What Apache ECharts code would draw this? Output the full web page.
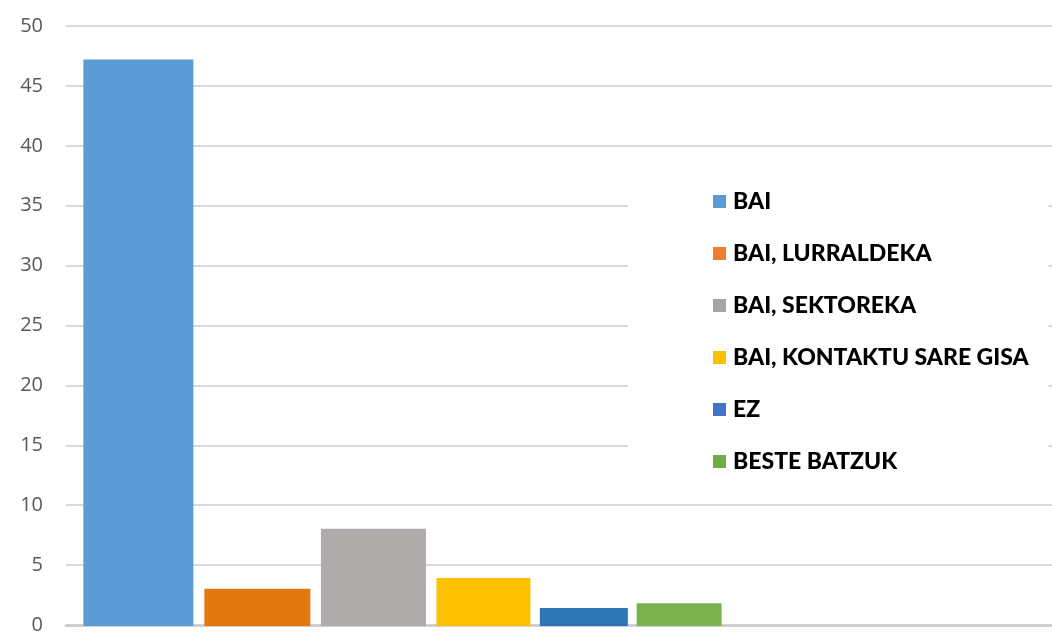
<!DOCTYPE html>
<html>
<head>
<meta charset="utf-8">
<script src="https://cdn.jsdelivr.net/npm/echarts@6/dist/echarts.min.js"></script>
<style>
  html, body { margin: 0; padding: 0; background: #fff; }
  #chart { width: 1052px; height: 635px; }
</style>
</head>
<body>
<div id="chart"></div>
<script>
// datuak
const categories = ['BAI', 'BAI, LURRALDEKA', 'BAI, SEKTOREKA', 'BAI, KONTAKTU SARE GISA', 'EZ', 'BESTE BATZUK']
const values = [47.2, 3.1, 8.1, 4.0, 1.5, 1.9]
const barColors = ['#5B9BD5', '#E2790F', '#AFABAB', '#FFC000', '#2E75B6', '#7AB24E']
const legendColors = ['#5B9BD5', '#ED7D31', '#A5A5A5', '#FFC000', '#4472C4', '#70AD47']
const yMin = 0
const yMax = 50
const yStep = 5

const chart = echarts.init(document.getElementById('chart'))

// bars in the picture get slightly narrower to the right
const barWidths = [110, 106, 105, 94, 88, 85]

// grid 0: full width, only axes + grid lines
// grid 1: left part, holds the bar cluster
const series = categories.map((name, i) => ({
  name,
  type: 'bar',
  xAxisIndex: 1,
  yAxisIndex: 1,
  data: [values[i]],
  itemStyle: { color: barColors[i] },
  barWidth: barWidths[i],
  barGap: '10%',
  silent: true
}))

chart.setOption({
  animation: false,
  grid: [
    { left: 66, right: 0, top: 26, bottom: 9 },
    { left: 65, right: 312, top: 26, bottom: 9 }
  ],
  xAxis: [
    {
      type: 'category', gridIndex: 0, data: [''],
      axisLine: { show: true, lineStyle: { color: '#d0d0d0', width: 3 } },
      axisTick: { show: false }, axisLabel: { show: false }
    },
    { type: 'category', gridIndex: 1, data: [''], show: false }
  ],
  yAxis: [
    {
      type: 'value', gridIndex: 0, min: yMin, max: yMax, interval: yStep,
      axisLine: { show: false }, axisTick: { show: false },
      splitLine: { show: true, lineStyle: { color: '#d9d9d9', width: 2 } },
      axisLabel: { color: '#595959', fontSize: 20, fontFamily: 'Open Sans', margin: 23 }
    },
    { type: 'value', gridIndex: 1, min: yMin, max: yMax, interval: yStep, show: false }
  ],
  legend: {
    orient: 'vertical',
    left: 628,
    top: 155,
    padding: [35, 20, 20, 85],
    backgroundColor: '#fff',
    itemWidth: 13,
    itemHeight: 13,
    itemGap: 29,
    icon: 'rect',
    selectedMode: false,
    data: categories.map((name, i) => ({ name, itemStyle: { color: legendColors[i] } })),
    textStyle: {
      color: '#000', fontSize: 23, fontWeight: 900, fontFamily: 'Lato',
      lineHeight: 23, padding: [0, 0, 0, 2]
    }
  },
  series
})
</script>
</body>
</html>
